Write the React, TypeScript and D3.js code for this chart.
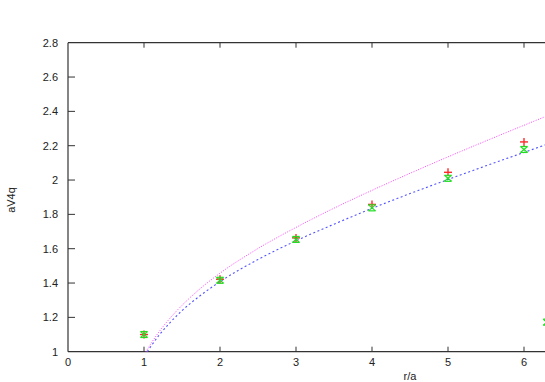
import React, { useRef, useEffect } from 'react';
import * as d3 from 'd3';

// measured potential (red +) and corrected (green x)
const rVals = [1, 2, 3, 4, 5, 6];
const redVals = [1.1, 1.422, 1.663, 1.858, 2.045, 2.222];
const greenVals = [1.1, 1.416, 1.654, 1.838, 2.01, 2.178];
const extraGreen = [{ r: 6.3, v: 1.172 }];

// fitted curves
const magentaR = [1.026, 1.1, 1.2, 1.35, 1.5, 1.75, 2, 2.5, 3, 3.5, 4, 4.5, 5, 5.5, 6, 6.3, 6.6];
const magentaV = [1.0, 1.053, 1.117, 1.199, 1.27, 1.371, 1.457, 1.601, 1.724, 1.836, 1.94, 2.039, 2.135, 2.228, 2.319, 2.373, 2.425];
const blueR = [1.043, 1.1, 1.2, 1.35, 1.5, 1.75, 2, 2.5, 3, 3.5, 4, 4.5, 5, 5.5, 6, 6.3, 6.6];
const blueV = [1.0, 1.037, 1.097, 1.173, 1.239, 1.33, 1.408, 1.537, 1.646, 1.743, 1.835, 1.921, 2.003, 2.083, 2.161, 2.208, 2.254];

const xTicks = [0, 1, 2, 3, 4, 5, 6];
const yTicks = [1, 1.2, 1.4, 1.6, 1.8, 2, 2.2, 2.4, 2.6, 2.8];

export default function App() {
  const svgRef = useRef<SVGSVGElement>(null);
  const width = 545;
  const height = 382;

  useEffect(() => {
    const svg = d3.select(svgRef.current);
    svg.selectAll('*').remove();

    const x = d3.scaleLinear().domain([0, 7]).range([68, 600]);
    const y = d3.scaleLinear().domain([1, 2.8]).range([351.7, 42.7]);
    const font = 'Liberation Sans, Arial, sans-serif';
    const axisColor = '#333';

    // frame
    svg.append('line').attr('x1', 68).attr('x2', 68).attr('y1', y(2.8)).attr('y2', y(1))
      .attr('stroke', axisColor).attr('stroke-width', 1.2);
    svg.append('line').attr('x1', 68).attr('x2', width).attr('y1', y(1)).attr('y2', y(1))
      .attr('stroke', axisColor).attr('stroke-width', 1.2);
    svg.append('line').attr('x1', 68).attr('x2', width).attr('y1', y(2.8)).attr('y2', y(2.8))
      .attr('stroke', axisColor).attr('stroke-width', 1.2);

    // y ticks
    yTicks.forEach(t => {
      if (t > 1 && t < 2.8) {
        svg.append('line').attr('x1', 68).attr('x2', 75).attr('y1', y(t)).attr('y2', y(t))
          .attr('stroke', axisColor).attr('stroke-width', 1);
      }
      svg.append('text').attr('x', 58).attr('y', y(t)).attr('dy', '0.35em')
        .attr('text-anchor', 'end').attr('font-family', font).attr('font-size', 11)
        .attr('fill', '#222').text(d3.format('~g')(t));
    });

    // x ticks
    xTicks.forEach(t => {
      if (t > 0) {
        svg.append('line').attr('x1', x(t)).attr('x2', x(t)).attr('y1', y(1)).attr('y2', y(1) - 5)
          .attr('stroke', axisColor).attr('stroke-width', 1);
        svg.append('line').attr('x1', x(t)).attr('x2', x(t)).attr('y1', y(2.8)).attr('y2', y(2.8) + 5)
          .attr('stroke', axisColor).attr('stroke-width', 1);
      }
      svg.append('text').attr('x', x(t)).attr('y', 366).attr('text-anchor', 'middle')
        .attr('font-family', font).attr('font-size', 11).attr('fill', '#222').text(String(t));
    });

    // axis labels
    svg.append('text').attr('x', 410).attr('y', 380).attr('text-anchor', 'middle')
      .attr('font-family', font).attr('font-size', 11).attr('fill', '#222').text('r/a');
    svg.append('text').attr('transform', `translate(15,200) rotate(-90)`).attr('text-anchor', 'middle')
      .attr('font-family', font).attr('font-size', 11).attr('fill', '#222').text('aV4q');

    const line = d3.line<[number, number]>().x(d => x(d[0])).y(d => y(d[1])).curve(d3.curveMonotoneX);

    svg.append('path')
      .attr('d', line(magentaR.map((r, i) => [r, magentaV[i]] as [number, number])))
      .attr('fill', 'none').attr('stroke', '#ff44ff').attr('stroke-width', 1)
      .attr('stroke-dasharray', '1,1.5');
    svg.append('path')
      .attr('d', line(blueR.map((r, i) => [r, blueV[i]] as [number, number])))
      .attr('fill', 'none').attr('stroke', '#5555ff').attr('stroke-width', 1.1)
      .attr('stroke-dasharray', '2,2.5');

    // red +
    rVals.forEach((r, i) => {
      const cx = x(r), cy = y(redVals[i]);
      const g = svg.append('g').attr('stroke', '#ff2a2a').attr('stroke-width', 1.4);
      g.append('line').attr('x1', cx - 4).attr('x2', cx + 4).attr('y1', cy).attr('y2', cy);
      g.append('line').attr('x1', cx).attr('x2', cx).attr('y1', cy - 4).attr('y2', cy + 4);
    });

    // green x with caps
    const greenPts = rVals.map((r, i) => ({ r, v: greenVals[i] })).concat(extraGreen);
    greenPts.forEach(p => {
      const cx = x(p.r), cy = y(p.v);
      const g = svg.append('g').attr('stroke', '#22dd22').attr('stroke-width', 1.2);
      g.append('line').attr('x1', cx - 3.5).attr('x2', cx + 3.5).attr('y1', cy - 3).attr('y2', cy + 3);
      g.append('line').attr('x1', cx - 3.5).attr('x2', cx + 3.5).attr('y1', cy + 3).attr('y2', cy - 3);
      g.append('line').attr('x1', cx - 3.5).attr('x2', cx + 3.5).attr('y1', cy - 3).attr('y2', cy - 3);
      g.append('line').attr('x1', cx - 3.5).attr('x2', cx + 3.5).attr('y1', cy + 3).attr('y2', cy + 3);
    });
  }, []);

  return (
    <svg
      ref={svgRef}
      width={width}
      height={height}
      style={{ position: 'absolute', left: 0, top: 0, background: '#fff' }}
    />
  );
}
